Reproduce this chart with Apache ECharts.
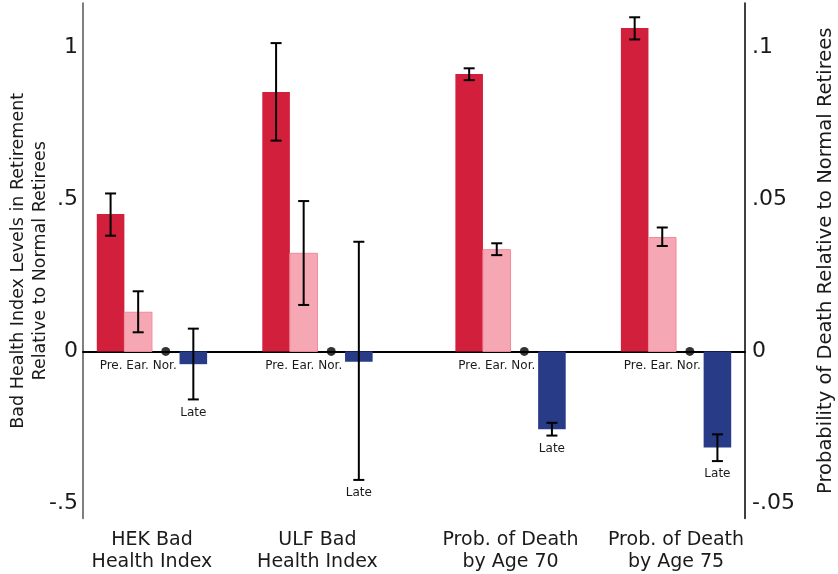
<!DOCTYPE html>
<html>
<head>
<meta charset="utf-8">
<script src="https://cdn.jsdelivr.net/npm/echarts@6/dist/echarts.min.js"></script>
<style>
html, body { margin: 0; padding: 0; background: #fff; }
#chart-container { width: 838px; height: 574px; }
</style>
</head>
<body>
<div id="chart-container"></div>
<script>
// outcomes (x groups) and retirement types
var outcomes = ['HEK Bad\nHealth Index', 'ULF Bad\nHealth Index', 'Prob. of Death\nby Age 70', 'Prob. of Death\nby Age 75'];
var retireTypes = ['Pre.', 'Ear.', 'Nor.', 'Late'];

// estimates relative to normal retirees (first two on left axis, last two on right axis)
var preVal = [0.452, 0.854, 0.0913, 0.1065];
var preLo  = [0.381, 0.694, 0.0893, 0.1027];
var preHi  = [0.520, 1.015, 0.0932, 0.1100];

var earVal = [0.129, 0.323, 0.0335, 0.0375];
var earLo  = [0.063, 0.153, 0.0317, 0.0347];
var earHi  = [0.198, 0.495, 0.0356, 0.0408];

var lateVal = [-0.042, -0.034, -0.0256, -0.0316];
var lateLo  = [-0.158, -0.423, -0.0277, -0.0361];
var lateHi  = [0.075, 0.361, -0.0235, -0.0273];

var leftTicks = [-0.5, 0, 0.5, 1];
var rightTicks = [-0.05, 0, 0.05, 0.1];

var dom = document.getElementById('chart-container');
var myChart = echarts.init(dom, null, {
    renderer: 'canvas',
    useDirtyRect: false
});

var FONT = '"DejaVu Sans"';
var TXT = '#1a1a1a';

// layout: first bar slot of each group (one slot = one bar width), and which y axis it uses
var groupStart = [1, 7, 14, 20];
var axisOf = [0, 0, 1, 1];
var centers = groupStart.map(function (s) { return s + 1.5; });

function fmtTick(v) {
    return String(v).replace('0.', '.');
}

function barItem(color, stroke, label) {
    return function (params, api) {
        var x = api.value(0), y = api.value(1);
        var a = api.coord([x - 0.5, 0]);
        var b = api.coord([x + 0.5, y]);
        var kids = [{
            type: 'rect',
            shape: { x: a[0], y: Math.min(a[1], b[1]), width: b[0] - a[0], height: Math.abs(a[1] - b[1]) },
            style: { fill: color, stroke: stroke || null, lineWidth: stroke ? 1 : 0 }
        }];
        if (label) {
            kids.push({
                type: 'text', x: (a[0] + b[0]) / 2, y: a[1] + 8,
                style: { text: label, fill: TXT, font: '12px ' + FONT, align: 'center', verticalAlign: 'top' }
            });
        }
        return { type: 'group', children: kids };
    };
}

function errItem(label) {
    return function (params, api) {
        var x = api.value(0);
        var lo = api.coord([x, api.value(1)]);
        var hi = api.coord([x, api.value(2)]);
        var w = 5.5;
        var st = { stroke: '#000', lineWidth: 2 };
        var kids = [
            { type: 'line', shape: { x1: lo[0], y1: lo[1], x2: hi[0], y2: hi[1] }, style: st },
            { type: 'line', shape: { x1: lo[0] - w, y1: lo[1], x2: lo[0] + w, y2: lo[1] }, style: st },
            { type: 'line', shape: { x1: hi[0] - w, y1: hi[1], x2: hi[0] + w, y2: hi[1] }, style: st }
        ];
        if (label) {
            kids.push({
                type: 'text', x: lo[0], y: lo[1] + 7,
                style: { text: label, fill: TXT, font: '12px ' + FONT, align: 'center', verticalAlign: 'top' }
            });
        }
        return { type: 'group', children: kids };
    };
}

var series = [];

function addBars(vals, lo, hi, slot, color, stroke, barLabel, errLabel) {
    [0, 1].forEach(function (ax) {
        var bars = [], errs = [];
        vals.forEach(function (v, i) {
            if (axisOf[i] !== ax) return;
            bars.push([groupStart[i] + slot, v]);
            errs.push([groupStart[i] + slot, lo[i], hi[i]]);
        });
        series.push({
            type: 'custom', yAxisIndex: ax, renderItem: barItem(color, stroke, barLabel),
            data: bars, z: 2, silent: true
        });
        series.push({
            type: 'custom', yAxisIndex: ax, renderItem: errItem(errLabel),
            data: errs, z: 4, silent: true
        });
    });
}

addBars(preVal, preLo, preHi, 0, '#d21f3c', null, null, null);
addBars(earVal, earLo, earHi, 1, '#f5a8b4', '#f28a9b', 'Pre. Ear. Nor.', null);
addBars(lateVal, lateLo, lateHi, 3, '#283b87', null, null, 'Late');

// normal retirees: reference point at zero
series.push({
    type: 'scatter', yAxisIndex: 0, symbol: 'circle', symbolSize: 9,
    itemStyle: { color: '#000' }, z: 5, silent: true,
    data: groupStart.map(function (s) { return [s + 2, 0]; })
});

var option = {
    animation: false,
    backgroundColor: '#fff',
    textStyle: { fontFamily: FONT },
    grid: { left: 83, right: 93, top: 3, bottom: 55.5, containLabel: false, outerBoundsMode: 'none' },
    xAxis: [
        {
            type: 'value', min: 0, max: 24,
            axisLine: { show: true, onZero: true, lineStyle: { color: '#000', width: 2 } },
            axisTick: { show: false }, axisLabel: { show: false }, splitLine: { show: false }
        },
        {
            type: 'value', min: 0, max: 24, position: 'bottom',
            axisLine: { show: false, onZero: false }, axisTick: { show: false }, splitLine: { show: false },
            axisLabel: {
                customValues: centers,
                formatter: function (v) { return outcomes[centers.indexOf(v)]; },
                fontSize: 19, lineHeight: 22, margin: 11, color: TXT, fontFamily: FONT
            }
        }
    ],
    yAxis: [
        {
            type: 'value', min: -0.55, max: 1.147, position: 'left',
            name: 'Bad Health Index Levels in Retirement\nRelative to Normal Retirees',
            nameLocation: 'middle', nameGap: 32, nameRotate: 90, nameMoveOverlap: false,
            nameTextStyle: { fontSize: 17.5, lineHeight: 22, color: TXT, fontFamily: FONT },
            axisLine: { show: true, onZero: false, lineStyle: { color: '#555', width: 1.5 } },
            axisTick: { show: false }, splitLine: { show: false },
            axisLabel: { customValues: leftTicks, formatter: fmtTick, fontSize: 22, margin: 5, color: TXT, fontFamily: FONT }
        },
        {
            type: 'value', min: -0.055, max: 0.1147, position: 'right',
            name: 'Probability of Death Relative to Normal Retirees',
            nameLocation: 'middle', nameGap: 71, nameRotate: 90, nameMoveOverlap: false,
            nameTextStyle: { fontSize: 19.5, color: TXT, fontFamily: FONT },
            axisLine: { show: true, onZero: false, lineStyle: { color: '#000', width: 1.5 } },
            axisTick: { show: false }, splitLine: { show: false },
            axisLabel: { customValues: rightTicks, formatter: fmtTick, fontSize: 22, margin: 7, color: TXT, fontFamily: FONT }
        }
    ],
    series: series
};

myChart.setOption(option);

window.addEventListener('resize', function () {
    myChart.resize();
});
</script>
</body>
</html>
